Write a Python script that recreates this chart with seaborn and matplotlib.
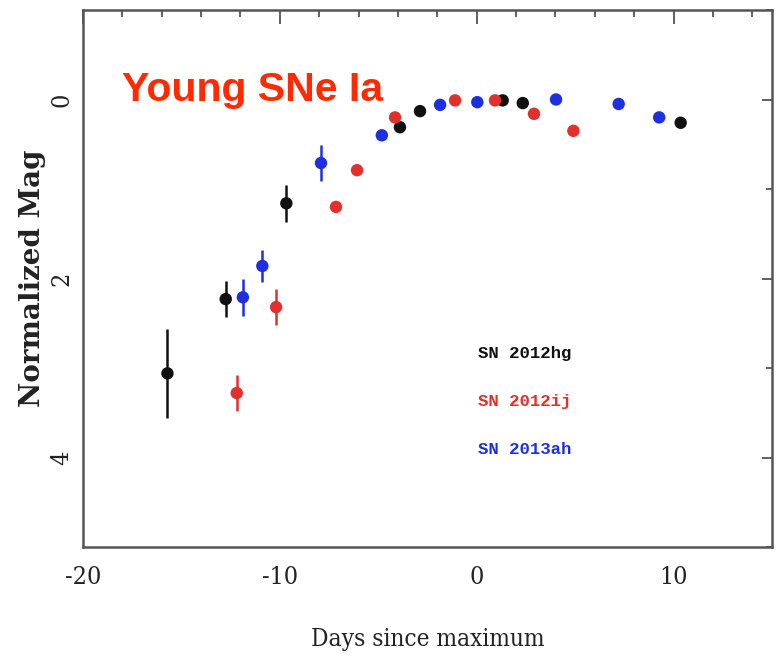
import matplotlib
matplotlib.use("Agg")
import matplotlib.pyplot as plt
from matplotlib.ticker import MultipleLocator
import numpy as np
import pandas as pd
import seaborn as sns

# Light-curve points: days since B maximum, normalized magnitude, 1-sigma error
hg_days = [-15.71, -12.75, -9.67, -3.90, -2.88, 1.32, 2.34, 10.36]
hg_mag = [3.06, 2.23, 1.16, 0.31, 0.13, 0.01, 0.04, 0.26]
hg_err = [0.50, 0.20, 0.21, 0.05, 0.05, 0.05, 0.05, 0.05]

ij_days = [-12.19, -10.19, -7.15, -6.08, -4.15, -1.10, 0.93, 2.91, 4.91]
ij_mag = [3.28, 2.32, 1.20, 0.79, 0.20, 0.01, 0.01, 0.16, 0.35]
ij_err = [0.20, 0.20, 0.05, 0.05, 0.05, 0.05, 0.05, 0.05, 0.05]

ah_days = [-11.88, -10.89, -7.91, -4.82, -1.86, 0.03, 4.03, 7.21, 9.27]
ah_mag = [2.21, 1.86, 0.71, 0.40, 0.06, 0.03, 0.00, 0.05, 0.20]
ah_err = [0.21, 0.18, 0.20, 0.05, 0.05, 0.05, 0.05, 0.05, 0.05]

names = ["SN 2012hg", "SN 2012ij", "SN 2013ah"]
colors = ["#111111", "#e2302c", "#1f2fe0"]

x_ticks = [-20, -10, 0, 10]
y_ticks = [0, 2, 4]

df = pd.concat([
    pd.DataFrame({"days": d, "mag": m, "err": e, "sn": n})
    for d, m, e, n in [(hg_days, hg_mag, hg_err, names[0]),
                       (ij_days, ij_mag, ij_err, names[1]),
                       (ah_days, ah_mag, ah_err, names[2])]
], ignore_index=True)

sns.set_theme(style="white")

fig = plt.figure(figsize=(7.78, 6.57), dpi=100)
ax = fig.add_axes([83 / 778, 1 - 547 / 657, (772 - 83) / 778, (547 - 10) / 657])

palette = dict(zip(names, colors))
for n in names:
    sub = df[df["sn"] == n]
    ax.errorbar(sub["days"], sub["mag"], yerr=sub["err"], fmt="none",
                ecolor=palette[n], elinewidth=1.8, capsize=0, zorder=2)

sns.scatterplot(data=df, x="days", y="mag", hue="sn", palette=palette,
                s=80, edgecolor="none", legend=False, ax=ax, zorder=3)

ax.set_xlim(-20, 15)
ax.set_ylim(5, -1)

ax.set_xticks(x_ticks)
ax.xaxis.set_minor_locator(MultipleLocator(2))
ax.set_yticks(y_ticks)
ax.yaxis.set_minor_locator(MultipleLocator(1))

tick_font = dict(family="DejaVu Serif", stretch="condensed", size=18,
                 color="#222222")
ax.set_xticklabels([f"{t}" for t in x_ticks], fontdict=tick_font)
ax.set_yticklabels([f"{t}" for t in y_ticks], fontdict=tick_font,
                   rotation=90, va="center")

ax.tick_params(which="both", direction="in", top=True, right=True,
               color="#444444", width=1.2)
ax.tick_params(axis="x", which="major", length=10, pad=14)
ax.tick_params(axis="x", which="minor", length=5)
ax.tick_params(axis="y", which="major", length=7, pad=7)
ax.tick_params(axis="y", which="minor", length=4.5)

for sp in ax.spines.values():
    sp.set_color("#555555")
    sp.set_linewidth(1.8)

ax.set_xlabel("Days since maximum", family="DejaVu Serif", stretch="condensed",
              size=17.5, labelpad=28, color="#222222")
ax.set_ylabel("Normalized Mag", family="DejaVu Serif", weight="bold",
              size=20, labelpad=3, color="#222222")

# Sample labels
for i, (n, c) in enumerate(zip(names, colors)):
    ax.text(0.573, 0.36 - i * 0.089, n, transform=ax.transAxes,
            family="Liberation Mono", weight="bold", size=12.5, color=c,
            va="center", ha="left")

fig.text(122 / 778, 1 - 101 / 657, "Young SNe Ia", family="Liberation Sans",
         weight="bold", size=29.5, color="#ff2a00", ha="left", va="baseline")

fig.savefig("out.png", dpi=100)
